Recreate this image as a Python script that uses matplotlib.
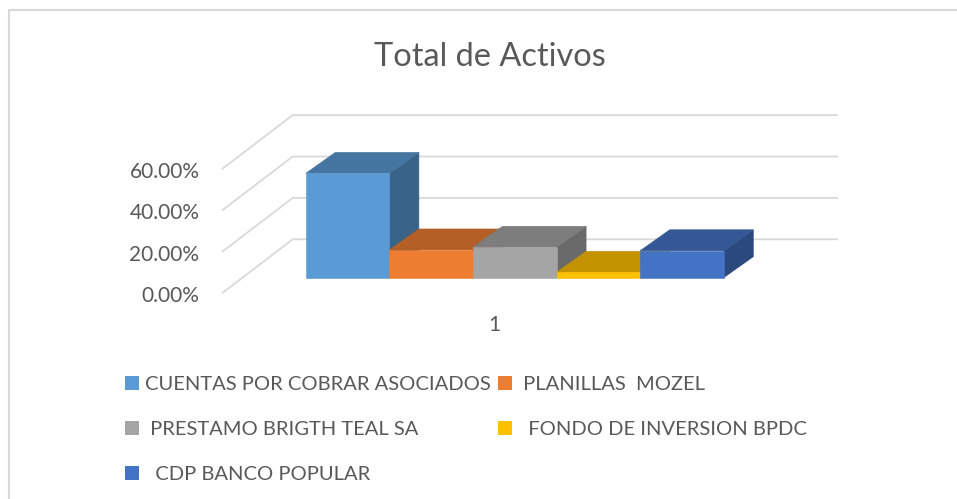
import matplotlib
matplotlib.use("Agg")
import matplotlib.pyplot as plt
from matplotlib.patches import Polygon, Rectangle
from matplotlib.lines import Line2D
import matplotlib.colors as mcolors

# ---------------- data ----------------
title = "Total de Activos"
series_labels = ["CUENTAS POR COBRAR ASOCIADOS", " PLANILLAS  MOZEL",
                 " PRESTAMO BRIGTH TEAL SA", "  FONDO DE INVERSION BPDC",
                 "  CDP BANCO POPULAR"]
values = [50.4, 13.4, 14.7, 2.6, 13.0]          # percent
colors = ["#5B9BD5", "#ED7D31", "#A5A5A5", "#FFC000", "#4472C4"]
y_ticks = [0, 20, 40, 60]
y_tick_labels = ["0.00%", "20.00%", "40.00%", "60.00%"]
category_label = "1"

# ---------------- layout ----------------
W, H = 957, 499
FONT = "Lato"
TXT = "#595959"
GRID = "#D9D9D9"

X0, BW = 305.7, 83.6      # pixel x of first bar front-left, pixel width of one bar
Y0, S = 277.7, 2.07       # pixel y of bar baseline, pixels per percent

# oblique depth of bars (data units)
ddx, ddy = 29.6 / BW, 21.0 / S
# walls (data units)
wall_fx, wall_fy = (222 - X0) / BW, (Y0 - 293.3) / S
wall_bx, wall_by = (292.7 - X0) / BW, (Y0 - 239.3) / S
wall_rx = (838 - X0) / BW

fig = plt.figure(figsize=(W / 100, H / 100), dpi=100)
fig.patch.set_facecolor("white")
ax = fig.add_axes([0, 0, 1, 1])
ax.set_xlim(-X0 / BW, (W - X0) / BW)
ax.set_ylim((Y0 - H) / S, Y0 / S)
ax.axis("off")

# gridlines on side and back walls
for t in y_ticks:
    ax.plot([wall_fx, wall_bx, wall_rx], [wall_fy + t, wall_by + t, wall_by + t],
            color=GRID, lw=1.3, zorder=1, solid_capstyle="butt")

# tick labels
for t, lab in zip(y_ticks, y_tick_labels):
    ax.text(wall_fx - 0.27, wall_fy + t - 1.4, lab, ha="right", va="center",
            fontsize=15, color=TXT, family=FONT)

# category label at middle of floor front edge
floor_front_right = wall_rx - (wall_bx - wall_fx)
ax.text((wall_fx + floor_front_right) / 2, wall_fy - 15.5, category_label,
        ha="center", va="center", fontsize=15, color=TXT, family=FONT)


def shade(c, f):
    r, g, b = mcolors.to_rgb(c)
    return (r * f, g * f, b * f)


for i, (v, c) in enumerate(zip(values, colors)):
    z = 10 + 3 * i
    side = Polygon([(i + 1, 0), (i + 1, v), (i + 1 + ddx, v + ddy), (i + 1 + ddx, ddy)],
                   closed=True, facecolor=shade(c, 0.64), edgecolor=shade(c, 0.64),
                   lw=0.4, zorder=z)
    ax.add_patch(side)
    top = Polygon([(i, v), (i + 1, v), (i + 1 + ddx, v + ddy), (i + ddx, v + ddy)],
                  closed=True, facecolor=shade(c, 0.76), edgecolor=shade(c, 0.76),
                  lw=0.4, zorder=z + 1)
    ax.add_patch(top)
    ax.bar(i, v, width=1, align="edge", color=c, edgecolor=c, lw=0.4, zorder=z + 2)

# title
fig.text(490 / W, 1 - 66 / H, title, ha="center", va="baseline",
         fontsize=23.4, color=TXT, family=FONT)

# legend (row-major, 2 columns)
col_x = [125, 498]
row_y = [383, 428, 473]
msz = 14
for k, (lab, c) in enumerate(zip(series_labels, colors)):
    r, cidx = divmod(k, 2)
    mx, my = col_x[cidx], row_y[r]
    fig.add_artist(Rectangle((mx / W, 1 - (my + msz / 2) / H), msz / W, msz / H,
                             transform=fig.transFigure, facecolor=c, edgecolor="none"))
    fig.text((mx + msz + 6) / W, 1 - my / H, lab, ha="left", va="center_baseline",
             fontsize=14.5, color=TXT, family=FONT)

# chart border
fig.add_artist(Line2D([9 / W, 9 / W, 1], [0, 1 - 10 / H, 1 - 10 / H],
                      transform=fig.transFigure, color=GRID, lw=1.5))

fig.savefig("out.png", dpi=100, facecolor="white")
